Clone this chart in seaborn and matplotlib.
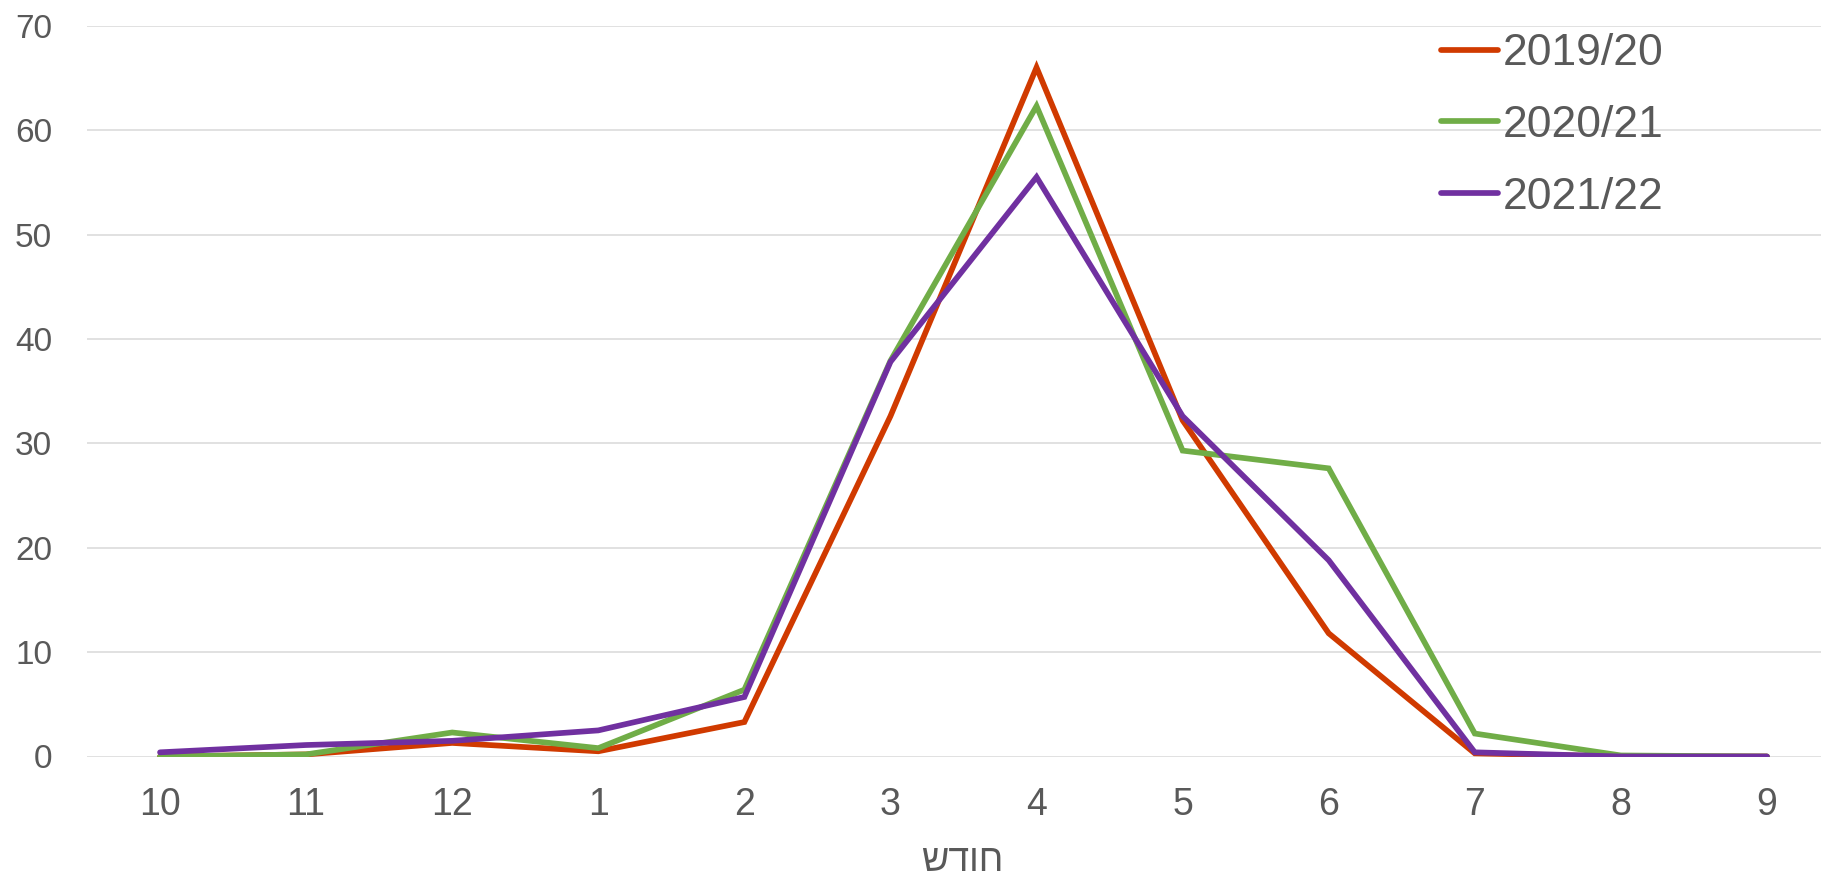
import matplotlib
matplotlib.use("Agg")
import matplotlib.pyplot as plt
import seaborn as sns
import pandas as pd

# Months of the season, October to September
months = ["10", "11", "12", "1", "2", "3", "4", "5", "6", "7", "8", "9"]
seasons = ["2019/20", "2020/21", "2021/22"]

values_2019_20 = [0.0, 0.2, 1.3, 0.5, 3.3, 32.6, 66.0, 32.2, 11.8, 0.3, 0.0, 0.0]
values_2020_21 = [0.0, 0.2, 2.3, 0.8, 6.4, 37.9, 62.3, 29.3, 27.6, 2.2, 0.1, 0.0]
values_2021_22 = [0.4, 1.1, 1.5, 2.5, 5.7, 37.8, 55.5, 32.6, 18.8, 0.4, 0.0, 0.0]

colors = ["#D03A00", "#70AD47", "#7030A0"]
x_label = "חודש"

# Long-form table for seaborn
frames = []
for season, vals in zip(seasons, [values_2019_20, values_2020_21, values_2021_22]):
    frames.append(pd.DataFrame({"pos": range(len(months)), "value": vals, "season": season}))
df = pd.concat(frames, ignore_index=True)

sns.set_style("white")
plt.rcParams["font.family"] = ["Liberation Sans", "DejaVu Sans"]
text_color = "#595959"

fig = plt.figure(figsize=(18.21, 8.73), dpi=100)
ax = fig.add_axes([87 / 1821, 1 - 756.5 / 873, 1 - 87 / 1821, (756.5 - 25.7) / 873])

sns.lineplot(
    data=df, x="pos", y="value", hue="season", hue_order=seasons,
    palette=colors, linewidth=4.1, ax=ax, sort=False,
)
for line in ax.get_lines():
    line.set_solid_capstyle("round")
    line.set_solid_joinstyle("miter")

ax.set_xlim(-0.5, 11.37)
ax.set_ylim(0, 70)
ax.set_yticks(range(0, 71, 10))
ax.set_xticks(range(len(months)))
ax.set_xticklabels(months)
ax.grid(axis="y", color="#D9D9D9", linewidth=1.1)
ax.set_axisbelow(True)
for s in ax.spines.values():
    s.set_visible(False)

ax.tick_params(axis="x", length=0, pad=22, labelsize=27, labelcolor=text_color)
ax.tick_params(axis="y", length=0, pad=25, labelsize=24, labelcolor=text_color)

# matplotlib has no bidi support, so lay the Hebrew letters out right to left
ax.set_xlabel(x_label[::-1], fontsize=27, color=text_color)
ax.xaxis.set_label_coords((962 - 87) / 1734, -0.118)
ax.set_ylabel("")

leg = ax.legend(
    loc="upper left", bbox_to_anchor=(1441 / 1821, 0.962),
    bbox_transform=fig.transFigure, frameon=False, fontsize=32,
    borderpad=0, borderaxespad=0, handlelength=1.28, handletextpad=0.1,
    labelspacing=0.69,
)
for t in leg.get_texts():
    t.set_color(text_color)
for h in leg.get_lines():
    h.set_linewidth(4.1)

fig.savefig("out.png", dpi=100)
